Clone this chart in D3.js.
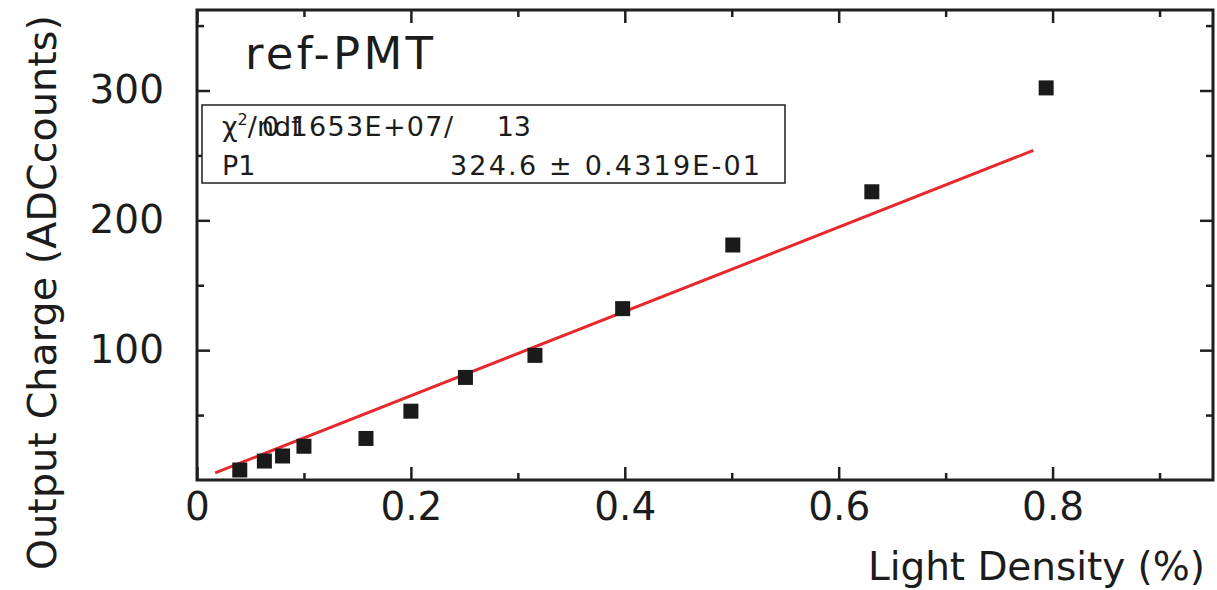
<!DOCTYPE html>
<html lang="en">
<head>
<meta charset="UTF-8">
<title>ref-PMT</title>
<script src="https://cdn.jsdelivr.net/npm/d3@7"></script>
<style>
    body { margin: 0; background: #fff; }
    svg text { font-family: "DejaVu Sans", sans-serif; fill: #1c1c1c; }
    .tick line { stroke: #1f1f1f; stroke-width: 2.5; }
</style>
</head>
<body>
<div id="chart"></div>
<script>
    let lightDensity = [0.040, 0.063, 0.080, 0.100, 0.158, 0.200, 0.251, 0.316, 0.398, 0.501, 0.631, 0.794];
    let outputCharge = [7.7, 14.6, 18.5, 26, 32, 53, 79, 96, 132, 181, 222, 302];
    // tick labels / positions
    let xMajorTicks = [0, 0.2, 0.4, 0.6, 0.8];
    let xMinorTicks = [0.1, 0.3, 0.5, 0.7, 0.9];
    let yMajorTicks = [100, 200, 300];
    let yMinorTicks = [50, 150, 250, 350];
    // fit result (pol1 through origin)
    let fitP1 = 324.6;
    let fitRange = [0.017, 0.782];

    let draw = () => {
        let svg = d3.select("#chart").append("svg")
            .attr("width", 1217)
            .attr("height", 590);

        let padding = { top: 10, left: 197, bottom: 110, right: 4 };
        let width = 1217 - padding.left - padding.right;
        let height = 590 - padding.top - padding.bottom;

        let focus = svg.append("g")
            .attr("transform", "translate(" + padding.left + "," + padding.top + ")");

        let x = d3.scaleLinear().domain([0, 0.95]).range([0, width]);
        let y = d3.scaleLinear().domain([0, 362]).range([height, 0]);

        let fmtX = d => d === 0 ? "0" : d3.format(".1f")(d);

        // axes: ticks point inward, like the original frame
        let axes = [
            [d3.axisBottom(x).tickValues(xMajorTicks).tickSize(-13).tickPadding(12).tickFormat(fmtX), "translate(0," + height + ")"],
            [d3.axisBottom(x).tickValues(xMinorTicks).tickSize(-7).tickFormat(""), "translate(0," + height + ")"],
            [d3.axisTop(x).tickValues(xMajorTicks).tickSize(-13).tickFormat(""), "translate(0,0)"],
            [d3.axisTop(x).tickValues(xMinorTicks).tickSize(-7).tickFormat(""), "translate(0,0)"],
            [d3.axisLeft(y).tickValues(yMajorTicks).tickSize(-13).tickPadding(33).tickFormat(d3.format("d")), "translate(0,0)"],
            [d3.axisLeft(y).tickValues(yMinorTicks).tickSize(-7).tickFormat(""), "translate(0,0)"],
            [d3.axisRight(y).tickValues(yMajorTicks).tickSize(-13).tickFormat(""), "translate(" + width + ",0)"],
            [d3.axisRight(y).tickValues(yMinorTicks).tickSize(-7).tickFormat(""), "translate(" + width + ",0)"]
        ];
        axes.forEach(a => {
            let g = focus.append("g").attr("transform", a[1]).call(a[0]);
            g.select(".domain").remove();
            g.selectAll("text").style("font-size", "39px").style("font-family", "DejaVu Sans").attr("fill", "#1c1c1c");
        });

        // frame
        focus.append("rect")
            .attr("x", 0).attr("y", 0)
            .attr("width", width).attr("height", height)
            .attr("fill", "none")
            .attr("stroke", "#1f1f1f")
            .attr("stroke-width", 3);

        // fit line
        let line = d3.line().x(d => x(d)).y(d => y(fitP1 * d));
        focus.append("path")
            .datum(fitRange)
            .attr("d", line)
            .attr("fill", "none")
            .attr("stroke", "#e8282c")
            .attr("stroke-width", 3);

        // data points
        let s = 15;
        focus.append("g").selectAll("rect")
            .data(lightDensity)
            .enter()
            .append("rect")
            .attr("x", d => x(d) - s / 2)
            .attr("y", (d, i) => y(outputCharge[i]) - s / 2)
            .attr("width", s)
            .attr("height", s)
            .attr("fill", "#1a1a1a");

        // title
        svg.append("text")
            .attr("x", 245).attr("y", 69)
            .attr("textLength", 188)
            .style("font-size", "45px")
            .text("ref-PMT");

        // stats box
        svg.append("rect")
            .attr("x", 202).attr("y", 105)
            .attr("width", 583).attr("height", 78)
            .attr("fill", "#fff")
            .attr("stroke", "#1f1f1f")
            .attr("stroke-width", 1.5);

        let chi = svg.append("text")
            .attr("x", 222).attr("y", 136)
            .style("font-size", "27px");
        chi.append("tspan").text("\u03c7");
        chi.append("tspan").attr("dy", -11).style("font-size", "16px").text("2");
        chi.append("tspan").attr("dy", 11).text("/ndf");

        svg.append("text")
            .attr("x", 262).attr("y", 136)
            .attr("textLength", 191)
            .style("font-size", "27px")
            .text("0.1653E+07/");
        svg.append("text")
            .attr("x", 531).attr("y", 136)
            .attr("text-anchor", "end")
            .style("font-size", "27px")
            .text("13");
        svg.append("text")
            .attr("x", 222).attr("y", 175)
            .style("font-size", "27px")
            .text("P1");
        svg.append("text")
            .attr("x", 450).attr("y", 175)
            .attr("textLength", 310)
            .style("font-size", "27px")
            .text("324.6 \u00b1 0.4319E-01");

        // axis titles
        svg.append("text")
            .attr("x", 868).attr("y", 580)
            .attr("textLength", 337)
            .style("font-size", "39px")
            .text("Light Density (%)");
        svg.append("text")
            .attr("transform", "translate(56,570) rotate(-90)")
            .attr("textLength", 555)
            .style("font-size", "39.5px")
            .text("Output Charge (ADCcounts)");
    }
    draw();
</script>
</body>
</html>
